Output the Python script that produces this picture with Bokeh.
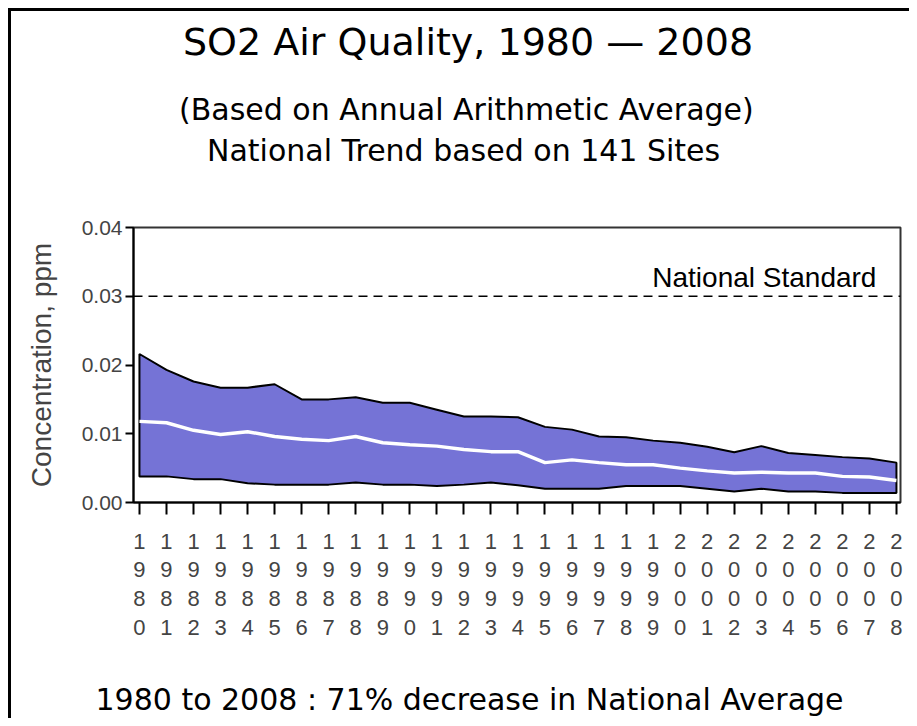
from bokeh.plotting import figure
from bokeh.models import Label, FixedTicker, NumeralTickFormatter, Span, Range1d, Title
from bokeh.embed import file_html
from bokeh.resources import INLINE

# ---------------- data ----------------
years = list(range(1980, 2009))
upper_90 = [0.0216, 0.0193, 0.0176, 0.0167, 0.0167, 0.0172, 0.0150, 0.0150, 0.0153, 0.0145,
            0.0145, 0.0135, 0.0125, 0.0125, 0.0124, 0.0110, 0.0106, 0.0096, 0.0095, 0.0090,
            0.0087, 0.0081, 0.0073, 0.0082, 0.0072, 0.0069, 0.0066, 0.0064, 0.0058]
national_mean = [0.0118, 0.0116, 0.0105, 0.0099, 0.0103, 0.0096, 0.0092, 0.0090, 0.0096, 0.0087,
                 0.0084, 0.0082, 0.0077, 0.0074, 0.0074, 0.0058, 0.0062, 0.0058, 0.0055, 0.0055,
                 0.0050, 0.0046, 0.0043, 0.0044, 0.0043, 0.0043, 0.0038, 0.0037, 0.0032]
lower_10 = [0.0038, 0.0038, 0.0034, 0.0034, 0.0028, 0.0026, 0.0026, 0.0026, 0.0029, 0.0026,
            0.0026, 0.0024, 0.0026, 0.0029, 0.0025, 0.0020, 0.0020, 0.0020, 0.0024, 0.0024,
            0.0024, 0.0020, 0.0016, 0.0020, 0.0016, 0.0016, 0.0014, 0.0014, 0.0014]
y_ticks = [0.0, 0.01, 0.02, 0.03, 0.04]
x_tick_labels = ["\n".join(str(y)) for y in years]
national_standard = 0.03

title_text = "SO2 Air Quality, 1980 \u2014 2008"
subtitle1 = "(Based on Annual Arithmetic Average)"
subtitle2 = "National Trend based on 141 Sites"
footer_text = "1980 to 2008 :  71% decrease in National Average"
standard_text = "National Standard"
y_label = "Concentration, ppm"

# ---------------- figure ----------------
p = figure(width=909, height=718, output_backend="svg", toolbar_location=None,
           x_range=Range1d(1979.78, 2008.15), y_range=Range1d(0, 0.04),
           min_border_left=133, min_border_right=9, min_border_top=227, min_border_bottom=215)
# outer page frame (left and top edges) drawn behind the transparent canvas border
p.styles = {
    "background-image": "linear-gradient(black, black), linear-gradient(black, black)",
    "background-size": "3px 100%, 100% 3px",
    "background-position": "8px 8px, 8px 8px",
    "background-repeat": "no-repeat",
}
p.background_fill_color = "white"
p.border_fill_color = None
p.outline_line_color = "#333333"
p.outline_line_width = 2
p.xgrid.visible = False
p.ygrid.visible = False

band_x = years + years[::-1]
band_y = upper_90 + lower_10[::-1]
p.patch(band_x, band_y, fill_color="#7573D6", line_color="black", line_width=2)
p.line(years, national_mean, line_color="white", line_width=3.5)

p.add_layout(Span(location=national_standard, dimension="width", line_color="black",
                  line_width=1.5, line_dash="9 6"))
p.add_layout(Label(x=2007.26, y=0.0328, text=standard_text, text_align="right",
                   text_baseline="alphabetic", text_font="Liberation Sans",
                   text_font_size="28px", text_color="black"))

# axes
p.xaxis.ticker = FixedTicker(ticks=years)
p.xaxis.major_label_overrides = {y: lab for y, lab in zip(years, x_tick_labels)}
p.xaxis.major_label_text_font = "Liberation Sans"
p.xaxis.major_label_text_font_size = "22px"
p.xaxis.major_label_text_line_height = 1.15
p.xaxis.major_label_standoff = 14
p.xaxis.major_tick_out = 12
p.xaxis.major_tick_in = 0
p.xaxis.minor_tick_line_color = None
p.xaxis.axis_line_width = 2
p.xaxis.major_tick_line_width = 2

p.yaxis.ticker = FixedTicker(ticks=y_ticks)
p.yaxis.formatter = NumeralTickFormatter(format="0.00")
p.yaxis.major_label_text_font = "Liberation Sans"
p.yaxis.major_label_text_font_size = "21px"
p.yaxis.major_label_standoff = 3
p.yaxis.major_tick_out = 8
p.yaxis.major_tick_in = 0
p.yaxis.minor_tick_line_color = None
p.yaxis.axis_line_width = 2
p.yaxis.major_tick_line_width = 2
p.yaxis.axis_label = y_label
p.yaxis.axis_label_text_font = "Liberation Sans"
p.yaxis.axis_label_text_font_size = "28px"
p.yaxis.axis_label_text_font_style = "normal"
p.yaxis.axis_label_standoff = 22

# titles (added nearest-to-frame first) and footer
def make_title(txt, size, offset, standoff):
    return Title(text=txt, align="left", offset=offset, standoff=standoff,
                 text_font="DejaVu Sans", text_font_size=size,
                 text_font_style="normal", text_color="black")

p.add_layout(make_title(" ", "2px", 0, 53.6), "above")          # spacing above the frame
p.add_layout(make_title(subtitle2, "30px", 73.5, 4), "above")
p.add_layout(make_title(subtitle1, "30px", 45.5, 2.2), "above")
p.add_layout(make_title(" ", "2px", 0, 20.7), "above")          # spacing under the main title
p.add_layout(make_title(title_text, "38px", 49.5, 2), "above")
p.add_layout(make_title(" ", "2px", 0, 30.9), "below")          # spacing below the axis
p.add_layout(make_title(footer_text, "30px", -38, 4), "below")

open("out.html", "w").write(file_html(p, INLINE))
